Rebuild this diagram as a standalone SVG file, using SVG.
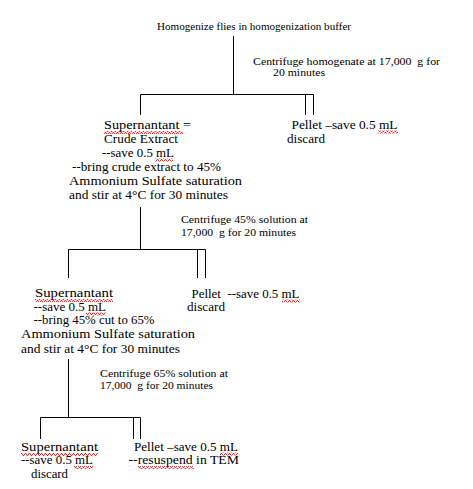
<svg xmlns="http://www.w3.org/2000/svg" width="473" height="489" viewBox="0 0 473 489">
<style>
text{font-family:"Liberation Serif","Times New Roman",serif;fill:#000;white-space:pre}
.s{font-size:10px}
.b{font-size:12px}
.c{stroke:#000;stroke-width:1;fill:none}
</style>
<defs>
<pattern id="sq" x="0" y="0" width="4" height="3" patternUnits="userSpaceOnUse">
<polyline points="0,2.5 1,0.5 2,0.5 3,2.5 4,2.5" fill="none" stroke="#e00000" stroke-width="0.8"/>
</pattern>
</defs>
<rect width="473" height="489" fill="#fff"/>
<g id="connectors" class="c">
<path d="M233.5 36V94.5M140.5 115V94.5H313.5V115M305.5 94.5V115"/>
<path d="M140.5 207V249.5M68.5 278V249.5H205.5V278M197.5 249.5V278"/>
<path d="M68.5 359V417.5M40.5 439V417.5H140.5V439M133.5 417.5V439"/>
</g>
<g id="start">
<text class="s" x="157" y="30" textLength="194" lengthAdjust="spacingAndGlyphs">Homogenize flies in homogenization buffer</text>
</g>
<g id="step1-label">
<text class="s" x="253" y="65" textLength="187" lengthAdjust="spacingAndGlyphs">Centrifuge homogenate at 17,000  g for</text>
<text class="s" x="273" y="76" textLength="52" lengthAdjust="spacingAndGlyphs">20 minutes</text>
</g>
<g id="supernatant1">
<text class="b" x="104" y="129" textLength="87" lengthAdjust="spacingAndGlyphs">Supernantant =</text>
<text class="b" x="104" y="143" textLength="74" lengthAdjust="spacingAndGlyphs">Crude Extract</text>
<text class="b" x="102" y="157" textLength="72" lengthAdjust="spacingAndGlyphs">--save 0.5 mL</text>
<text class="b" x="72" y="171" textLength="149" lengthAdjust="spacingAndGlyphs">--bring crude extract to 45%</text>
<text class="b" x="69" y="185" textLength="173" lengthAdjust="spacingAndGlyphs">Ammonium Sulfate saturation</text>
<text class="b" x="69" y="198.5" textLength="159" lengthAdjust="spacingAndGlyphs">and stir at 4°C for 30 minutes</text>
<rect x="104" y="131" width="79" height="3" fill="url(#sq)"/>
<rect x="155" y="158.5" width="18" height="3" fill="url(#sq)"/>
</g>
<g id="pellet1">
<text class="b" x="291.5" y="128.5" textLength="106" lengthAdjust="spacingAndGlyphs">Pellet –save 0.5 mL</text>
<text class="b" x="287" y="142.5" textLength="38" lengthAdjust="spacingAndGlyphs">discard</text>
<rect x="378" y="130.5" width="20" height="3" fill="url(#sq)"/>
</g>
<g id="step2-label">
<text class="s" x="181" y="223" textLength="127" lengthAdjust="spacingAndGlyphs">Centrifuge 45% solution at</text>
<text class="s" x="181" y="236" textLength="115" lengthAdjust="spacingAndGlyphs">17,000  g for 20 minutes</text>
</g>
<g id="supernatant2">
<text class="b" x="35" y="297" textLength="78" lengthAdjust="spacingAndGlyphs">Supernantant</text>
<text class="b" x="33.5" y="310.5" textLength="72.5" lengthAdjust="spacingAndGlyphs">--save 0.5 mL</text>
<text class="b" x="33.5" y="324" textLength="121" lengthAdjust="spacingAndGlyphs">--bring 45% cut to 65%</text>
<text class="b" x="21" y="338" textLength="174" lengthAdjust="spacingAndGlyphs">Ammonium Sulfate saturation</text>
<text class="b" x="21" y="352.5" textLength="159" lengthAdjust="spacingAndGlyphs">and stir at 4°C for 30 minutes</text>
<rect x="35" y="299" width="78" height="3" fill="url(#sq)"/>
<rect x="86" y="312.5" width="20" height="3" fill="url(#sq)"/>
</g>
<g id="pellet2">
<text class="b" x="191.5" y="297.5" textLength="108" lengthAdjust="spacingAndGlyphs">Pellet  --save 0.5 mL</text>
<text class="b" x="187" y="310.5" textLength="38" lengthAdjust="spacingAndGlyphs">discard</text>
<rect x="282" y="299.5" width="18" height="3" fill="url(#sq)"/>
</g>
<g id="step3-label">
<text class="s" x="100" y="377" textLength="128" lengthAdjust="spacingAndGlyphs">Centrifuge 65% solution at</text>
<text class="s" x="100" y="389" textLength="113" lengthAdjust="spacingAndGlyphs">17,000  g for 20 minutes</text>
</g>
<g id="supernatant3">
<text class="b" x="21" y="451" textLength="77" lengthAdjust="spacingAndGlyphs">Supernantant</text>
<text class="b" x="21" y="464" textLength="72" lengthAdjust="spacingAndGlyphs">--save 0.5 mL</text>
<text class="b" x="31" y="477.5" textLength="37" lengthAdjust="spacingAndGlyphs">discard</text>
<rect x="21" y="453" width="77" height="3" fill="url(#sq)"/>
<rect x="74" y="466" width="19" height="3" fill="url(#sq)"/>
</g>
<g id="pellet3">
<text class="b" x="134" y="450.5" textLength="104" lengthAdjust="spacingAndGlyphs">Pellet –save 0.5 mL</text>
<text class="b" x="128.5" y="463.5" textLength="110.5" lengthAdjust="spacingAndGlyphs">--resuspend in TEM</text>
<rect x="220" y="452.5" width="18" height="3" fill="url(#sq)"/>
<rect x="138" y="466" width="56" height="3" fill="url(#sq)"/>
</g>
</svg>
